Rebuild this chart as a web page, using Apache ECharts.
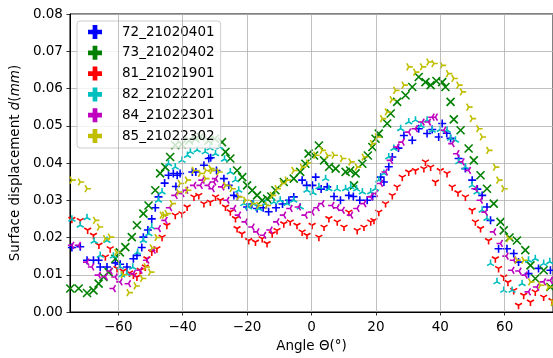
<!DOCTYPE html>
<html><head><meta charset="utf-8">
<script src="https://cdn.jsdelivr.net/npm/echarts@6/dist/echarts.min.js"></script>
<style>html,body{margin:0;padding:0;background:#fff}#c{width:553px;height:358px}</style>
</head><body><div id="c"></div>
<script>
const xTicks = [-60, -40, -20, 0, 20, 40, 60];
const seriesNames = ['72_21020401', '73_21020402', '81_21021901', '82_21022201', '84_21022301', '85_21022302'];
const colors = ['#0000ff', '#008000', '#ff0000', '#00bfbf', '#bf00bf', '#bfbf00'];

const s72 = [[-74.4,0.0173],[-71.8,0.0175],[-69.7,0.0139],[-67.7,0.0139],[-66.1,0.0139],[-65.6,0.0121],[-63.5,0.0121],[-60.9,0.0132],[-59.4,0.0128],[-57.3,0.0121],[-55.3,0.0143],[-54.2,0.0152],[-52.7,0.0173],[-52.2,0.0201],[-50.8,0.022],[-49.6,0.025],[-48.5,0.028],[-47.5,0.0309],[-45.6,0.0346],[-44.4,0.0367],[-42.9,0.0372],[-42.1,0.0337],[-41.7,0.0367],[-40.8,0.0372],[-37,0.0376],[-35.9,0.0376],[-33.4,0.0394],[-31.9,0.0412],[-31.3,0.0414],[-29.5,0.038],[-27.2,0.0358],[-25.7,0.034],[-24.1,0.0313],[-23,0.031],[-20,0.0282],[-18.5,0.029],[-16.9,0.0278],[-15,0.028],[-13.3,0.0269],[-11,0.028],[-9,0.029],[-7,0.03],[-5.5,0.0309],[-2.9,0.0354],[-1.5,0.034],[0.3,0.034],[1.3,0.0362],[3,0.033],[4.9,0.0336],[7,0.031],[9,0.03],[11.6,0.0313],[13,0.031],[15,0.03],[17.3,0.03],[19,0.031],[21.5,0.0362],[22.5,0.0349],[24,0.039],[25.1,0.0416],[27,0.044],[28.7,0.0474],[31.3,0.0461],[33.3,0.0492],[35.9,0.0479],[37.5,0.049],[39.5,0.047],[40.6,0.0506],[42,0.048],[43.2,0.0466],[45.7,0.0412],[47.8,0.0385],[49.9,0.0354],[51.5,0.033],[53,0.0313],[54.5,0.0282],[55.6,0.0246],[58.1,0.017],[60.7,0.017],[62.8,0.0157],[64.3,0.0134],[67.4,0.0103],[70.5,0.0117],[74.2,0.0112]];

const s73 = [[-74.9,0.0063],[-72.3,0.0063],[-69.7,0.0051],[-67.7,0.0058],[-66.1,0.0076],[-64.6,0.0094],[-63,0.0107],[-60.9,0.0143],[-59.5,0.016],[-57.8,0.0174],[-55.8,0.0201],[-54.2,0.0233],[-52.2,0.0264],[-50.6,0.0286],[-48.5,0.0327],[-47,0.0372],[-45.4,0.0389],[-43.9,0.0416],[-42.3,0.0448],[-40.3,0.045],[-38,0.046],[-36,0.0465],[-34.5,0.047],[-32,0.046],[-30,0.0465],[-27.8,0.0456],[-26.7,0.043],[-25.2,0.0412],[-23.1,0.038],[-21.5,0.0362],[-20,0.034],[-18.4,0.0327],[-16.9,0.0313],[-15.3,0.03],[-13.8,0.0304],[-12.5,0.031],[-11.2,0.0327],[-8.6,0.0349],[-5.5,0.0358],[-3.5,0.0376],[-1.9,0.0398],[-0.9,0.0425],[0.8,0.042],[2.3,0.0447],[3.9,0.0407],[5.5,0.039],[7.5,0.0385],[10.6,0.0376],[12,0.038],[13.2,0.034],[13.7,0.0372],[15.8,0.0398],[17.5,0.042],[18.9,0.0443],[19.9,0.0465],[20.9,0.0479],[23.5,0.0506],[24.6,0.0533],[26.6,0.0564],[29.2,0.0582],[31.3,0.0604],[33.3,0.0631],[35.4,0.0617],[37,0.0609],[38.8,0.062],[40.6,0.0617],[41.6,0.0604],[43.2,0.0564],[44.2,0.0517],[46.3,0.0488],[48.8,0.0439],[50.4,0.0407],[52.5,0.0367],[54.5,0.0331],[56.6,0.0291],[58.7,0.0242],[59.7,0.0219],[61.5,0.02],[63.8,0.0192],[66.4,0.0166],[68,0.0125],[69.5,0.009],[72.1,0.0112],[74.2,0.0067]];

const s81 = [[-74.4,0.0249],[-71.8,0.0246],[-69.5,0.022],[-67.7,0.0206],[-66,0.018],[-64,0.0148],[-62.5,0.017],[-60.4,0.0117],[-58.5,0.011],[-56.5,0.0105],[-55.3,0.0099],[-54.2,0.0094],[-53.2,0.0112],[-51.6,0.0121],[-51.1,0.0143],[-49.6,0.0161],[-48,0.017],[-46.4,0.0201],[-44.9,0.0233],[-42.3,0.026],[-40.2,0.0264],[-38.6,0.0282],[-36.5,0.0309],[-35,0.0313],[-33.4,0.0291],[-31.4,0.0295],[-29.8,0.0309],[-28.3,0.03],[-26.7,0.0282],[-25.2,0.0269],[-23.6,0.0251],[-23.1,0.0224],[-21.6,0.021],[-19.5,0.0192],[-17.4,0.0188],[-15.3,0.0197],[-13.8,0.0184],[-12.2,0.021],[-10.7,0.0219],[-8.6,0.0237],[-6.6,0.0242],[-4.5,0.0233],[-2.9,0.0215],[-1.4,0.0206],[0.2,0.0233],[2.3,0.0201],[3.9,0.0228],[5.4,0.0251],[8,0.0242],[10.1,0.0228],[11.6,0.0268],[14.2,0.0219],[16.3,0.0228],[18.4,0.0242],[19.4,0.0246],[20.9,0.0268],[23,0.0291],[25.1,0.0313],[26.6,0.0336],[28.2,0.0362],[30.2,0.0376],[32.3,0.038],[34.9,0.0385],[35.4,0.0403],[37,0.0389],[38.5,0.0349],[40,0.038],[42.1,0.0372],[43.7,0.0336],[45.5,0.032],[47.8,0.0309],[49.9,0.0273],[50.9,0.0242],[52.5,0.0224],[55,0.0192],[57.1,0.0143],[58.1,0.0117],[59.7,0.0094],[61,0.008],[62.8,0.0058],[64.3,0.0018],[65.9,0.0045],[68,0.0027],[69.5,0.0054],[72.1,0.004],[74.7,0.0031]];

const s82 = [[-74.4,0.0249],[-71.8,0.0233],[-69.7,0.0253],[-67.5,0.019],[-65.6,0.0152],[-63.5,0.0192],[-61.5,0.015],[-59.4,0.0121],[-59,0.0099],[-57.3,0.0103],[-55.5,0.012],[-54,0.016],[-52.2,0.0192],[-50.5,0.021],[-49.6,0.0228],[-47.5,0.03],[-46.4,0.0322],[-44.4,0.0398],[-42.3,0.0389],[-40.2,0.0407],[-38.5,0.042],[-37.6,0.043],[-35.5,0.0435],[-33,0.043],[-31.5,0.044],[-29.8,0.0425],[-28.5,0.0443],[-27,0.041],[-25.2,0.0376],[-23.6,0.0354],[-22.6,0.0327],[-21,0.0291],[-19.5,0.0282],[-18,0.029],[-16.4,0.0278],[-14.3,0.0291],[-11.7,0.0295],[-9.7,0.03],[-7.6,0.0291],[-5.5,0.03],[-3.5,0.0282],[-1.4,0.0327],[0.5,0.032],[2.3,0.0336],[4.4,0.0358],[5.4,0.0331],[8,0.033],[10.6,0.0331],[12.2,0.0336],[14,0.033],[15.8,0.0322],[18.4,0.0322],[19.9,0.0331],[20.9,0.0354],[22.5,0.0372],[24,0.0416],[25.6,0.0439],[27.7,0.0492],[30.2,0.051],[32.3,0.0515],[34,0.05],[35.9,0.0515],[37.5,0.0488],[40,0.049],[42.1,0.0488],[43.2,0.0466],[44.7,0.0461],[45.7,0.0403],[47.8,0.0389],[49.9,0.034],[51.4,0.0322],[53,0.0273],[54.5,0.0251],[55.6,0.013],[57.6,0.0081],[59.7,0.0058],[62.3,0.0058],[65.4,0.0076],[67.4,0.0139],[69.5,0.0143],[72.1,0.013],[74,0.0135]];

const s84 = [[-74.4,0.0179],[-72.3,0.0179],[-69.7,0.0134],[-68.2,0.0121],[-66.1,0.0099],[-64,0.0095],[-62.5,0.011],[-61.5,0.0063],[-60.9,0.0094],[-59.4,0.0081],[-56.8,0.0076],[-55.3,0.0103],[-53.2,0.0112],[-51.1,0.0139],[-49.1,0.0166],[-47.5,0.0224],[-45.4,0.0246],[-44,0.028],[-42.3,0.0313],[-40.2,0.0318],[-39,0.0327],[-36.5,0.034],[-34.5,0.034],[-33.9,0.0354],[-32,0.034],[-30.8,0.0331],[-30.3,0.0349],[-29.7,0.0358],[-27.8,0.0336],[-26.2,0.03],[-24.1,0.0278],[-22.6,0.026],[-20.5,0.0242],[-18.4,0.0228],[-16.9,0.0215],[-14.8,0.0206],[-12.8,0.022],[-10.7,0.0242],[-8.6,0.026],[-6.6,0.0278],[-4,0.0282],[-1.9,0.026],[0.2,0.0268],[1.8,0.028],[3.3,0.0291],[6.4,0.0286],[8,0.028],[9.6,0.0273],[12.2,0.026],[14.2,0.0278],[16.3,0.0291],[18.4,0.0309],[19.9,0.0318],[21.5,0.0345],[23,0.0376],[24.6,0.0407],[26.6,0.0443],[28.2,0.0456],[30.2,0.0483],[32.3,0.0492],[34.4,0.051],[36.4,0.051],[37.5,0.0523],[38.5,0.0523],[41.1,0.0488],[43.7,0.0452],[45.2,0.0425],[46.8,0.0403],[48.8,0.038],[50.9,0.0331],[52.5,0.03],[54,0.0268],[56.6,0.0215],[58.7,0.0184],[60.5,0.015],[62.3,0.0112],[62.8,0.0139],[64.5,0.011],[66.4,0.0099],[67.4,0.0054],[70,0.0067],[72.1,0.0081],[74.2,0.0085]];

const s85 = [[-74.4,0.0354],[-71.8,0.0349],[-69.7,0.0331],[-67.1,0.0246],[-65.9,0.0228],[-64,0.0197],[-62.5,0.0201],[-60.5,0.016],[-58.5,0.01],[-56.7,0.0052],[-54.5,0.007],[-52.5,0.009],[-51.4,0.0121],[-50,0.0107],[-49.5,0.0172],[-48,0.02],[-46.4,0.026],[-45.7,0.026],[-44.9,0.0264],[-43.3,0.0291],[-41.3,0.0322],[-40.8,0.0345],[-38.6,0.0354],[-38.5,0.0327],[-36.5,0.038],[-34.5,0.0372],[-32.9,0.0358],[-32.8,0.038],[-31.3,0.0385],[-30.9,0.038],[-28.8,0.0376],[-26.7,0.034],[-24.7,0.0331],[-22.6,0.0309],[-20.5,0.03],[-18.4,0.0291],[-16.4,0.0286],[-13.8,0.0286],[-12.2,0.0313],[-10.7,0.0331],[-9.1,0.0345],[-7.6,0.0354],[-5.5,0.038],[-2.9,0.0389],[-1,0.04],[1.3,0.0421],[3.3,0.0434],[5,0.042],[7,0.0421],[9.6,0.0412],[12.2,0.0403],[14.2,0.0389],[16.3,0.0416],[18.9,0.0452],[20.4,0.047],[22,0.0519],[23.5,0.0537],[25,0.057],[26.1,0.0595],[28.7,0.0609],[30.2,0.0658],[32.3,0.0644],[34.4,0.0658],[36.4,0.0671],[38,0.0667],[40.6,0.0662],[42.5,0.064],[44.2,0.0627],[45.7,0.0609],[46.8,0.0591],[48.8,0.055],[49.9,0.0519],[51.9,0.0492],[53,0.047],[55,0.0434],[57.1,0.0389],[58.1,0.0354],[59.7,0.0331],[61.2,0.0197],[63.8,0.0139],[65.9,0.0139],[68,0.0081],[71.1,0.0072],[73.6,0.0067],[75,0.0025]];

const allData = [s72, s73, s81, s82, s84, s85];

const FONT = 'DejaVu Sans';
const FS = 13.5;
const BOX = 'M-10,0M10,0M0,-10M0,10';
const symbols = [
  'path://M-10,0L10,0M0,-10L0,10',
  'path://M-10,-10L10,10M-10,10L10,-10',
  'path://M0,0L0,10M0,0L-8.66,-5M0,0L8.66,-5' + BOX,
  'path://M0,0L0,-10M0,0L-8.66,5M0,0L8.66,5' + BOX,
  'path://M0,0L-10,0M0,0L5,-8.66M0,0L5,8.66' + BOX,
  'path://M0,0L10,0M0,0L-5,-8.66M0,0L-5,8.66' + BOX
];
const legendIcon = 'path://M-2.2,-6.5H2.2V-2.2H6.5V2.2H2.2V6.5H-2.2V2.2H-6.5V-2.2H-2.2Z';

const series = [{
  type: 'scatter', data: [], z: 1, silent: true,
  markLine: {
    silent: true, symbol: 'none', animation: false,
    label: {show: false},
    lineStyle: {color: '#b0b0b0', width: 0.8, type: 'solid'},
    data: xTicks.map(v => ({xAxis: v}))
  }
}];
seriesNames.forEach((n, i) => {
  series.push({
    name: n, type: 'scatter', data: allData[i], z: 2,
    symbol: symbols[i], symbolSize: 8,
    itemStyle: {color: colors[i], borderColor: colors[i], borderWidth: 1.6, opacity: 1},
    emphasis: {disabled: true}
  });
});

const chart = echarts.init(document.getElementById('c'), null, {renderer: 'canvas'});
chart.setOption({
  animation: false,
  backgroundColor: '#fff',
  textStyle: {fontFamily: FONT},
  grid: {left: 69, right: -2, top: 14, bottom: 46, show: true, borderColor: '#000', borderWidth: 1, backgroundColor: 'transparent'},
  legend: {
    orient: 'vertical', left: 77, top: 21,
    padding: [4, 6, 5, 11], itemGap: 6.8,
    itemWidth: 44, itemHeight: 14, icon: legendIcon,
    itemStyle: {borderWidth: 0},
    backgroundColor: 'rgba(255,255,255,0.8)', borderColor: '#cccccc', borderWidth: 1, borderRadius: 3,
    textStyle: {fontFamily: FONT, fontSize: FS, color: '#000'},
    data: seriesNames
  },
  xAxis: {
    type: 'value', min: -75, max: 75,
    axisLine: {show: true, onZero: false, lineStyle: {color: '#000', width: 1}},
    axisTick: {show: true, customValues: xTicks, length: 3.5, lineStyle: {color: '#000', width: 0.8}},
    axisLabel: {customValues: xTicks, formatter: v => String(v).replace('-', '\u2212'), fontFamily: FONT, fontSize: FS, color: '#000', margin: 8},
    splitLine: {show: false},
    name: 'Angle Θ(°)', nameLocation: 'middle', nameGap: 27,
    nameTextStyle: {fontFamily: FONT, fontSize: FS, color: '#000'}
  },
  yAxis: {
    type: 'value', min: 0, max: 0.08, interval: 0.01,
    axisLine: {show: true, onZero: false, lineStyle: {color: '#000', width: 1}},
    axisTick: {show: true, length: 3.5, lineStyle: {color: '#000', width: 0.8}},
    axisLabel: {formatter: v => v.toFixed(2), fontFamily: FONT, fontSize: FS, color: '#000', margin: 7},
    splitLine: {show: true, lineStyle: {color: '#b0b0b0', width: 0.8}},
    name: 'Surface displacement {i|d}({i|mm})', nameLocation: 'middle', nameGap: 44,
    nameTextStyle: {fontFamily: FONT, fontSize: FS, color: '#000',
      rich: {i: {fontStyle: 'italic', fontFamily: FONT, fontSize: FS, color: '#000'}}}
  },
  series: series
});
</script></body></html>
